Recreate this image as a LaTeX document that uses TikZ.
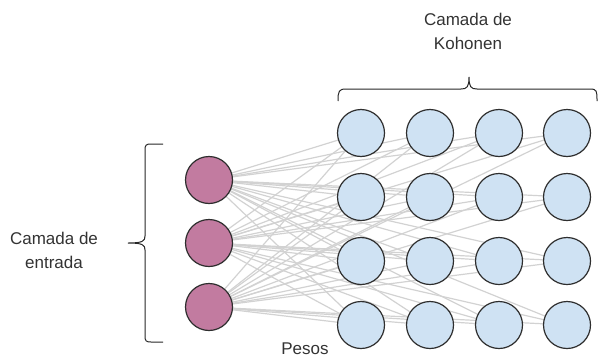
\documentclass[tikz,border=0pt]{standalone}
\usepackage{fontspec}
\setmainfont{Liberation Sans}
\usetikzlibrary{backgrounds}
\definecolor{inpfill}{HTML}{C27BA0}
\definecolor{kohfill}{HTML}{CFE2F3}
\definecolor{edge}{HTML}{2E2E2E}
\definecolor{wire}{HTML}{D2D2D2}
\definecolor{txt}{HTML}{333333}
\begin{document}
\begin{tikzpicture}[x=1pt,y=-1pt,
  neuron/.style={circle,draw=edge,line width=1.2pt,minimum size=47pt,inner sep=0pt},
  inneuron/.style={neuron,fill=inpfill},
  kohneuron/.style={neuron,fill=kohfill},
  weight/.style={draw=wire,line width=1.2pt},
  bracket/.style={draw=black!85,line width=1pt},
  lbl/.style={text=txt,font=\fontsize{17}{24}\selectfont,align=center,inner sep=0pt}]
\useasboundingbox (0,0) rectangle (599,359);

% input layer
\node[inneuron] (i1) at (209,180) {};
\node[inneuron] (i2) at (209,243) {};
\node[inneuron] (i3) at (209,307) {};

% Kohonen grid
\foreach \c/\x in {1/361,2/430,3/499,4/567}{
  \foreach \r/\y in {1/133,2/197,3/261,4/325}{
    \node[kohneuron] (k\r\c) at (\x,\y) {};
  }
}

% weights: every input to every Kohonen neuron
\begin{scope}[on background layer]
\foreach \i in {1,2,3}{
  \foreach \r in {1,2,3,4}{
    \foreach \c in {1,2,3,4}{
      \draw[weight] (i\i.center) -- (k\r\c.center);
    }
  }
}
\end{scope}

% bracket over the Kohonen layer
\draw[bracket] (338,101) .. controls (338,91) and (339,89) .. (346,89) -- (461,89)
  .. controls (467,89) and (469,87) .. (469,77)
  .. controls (469,87) and (471,89) .. (477,89) -- (590,89)
  .. controls (597,89) and (597,91) .. (597,101);

% bracket beside the input layer
\draw[bracket] (163,144) -- (151,144) .. controls (146,144) and (145,145) .. (145,150) -- (145,236)
  .. controls (145,241) and (143,243) .. (128,243)
  .. controls (143,243) and (145,245) .. (145,250) -- (145,336)
  .. controls (145,341) and (146,342) .. (151,342) -- (163,342);

% labels
\node[lbl] (tkoh) at (468,31) {Camada de\\Kohonen};
\node[lbl] (tin) at (54,250) {Camada de\\entrada};
\node[lbl] (tw) at (305,349) {Pesos};
\end{tikzpicture}
\end{document}
